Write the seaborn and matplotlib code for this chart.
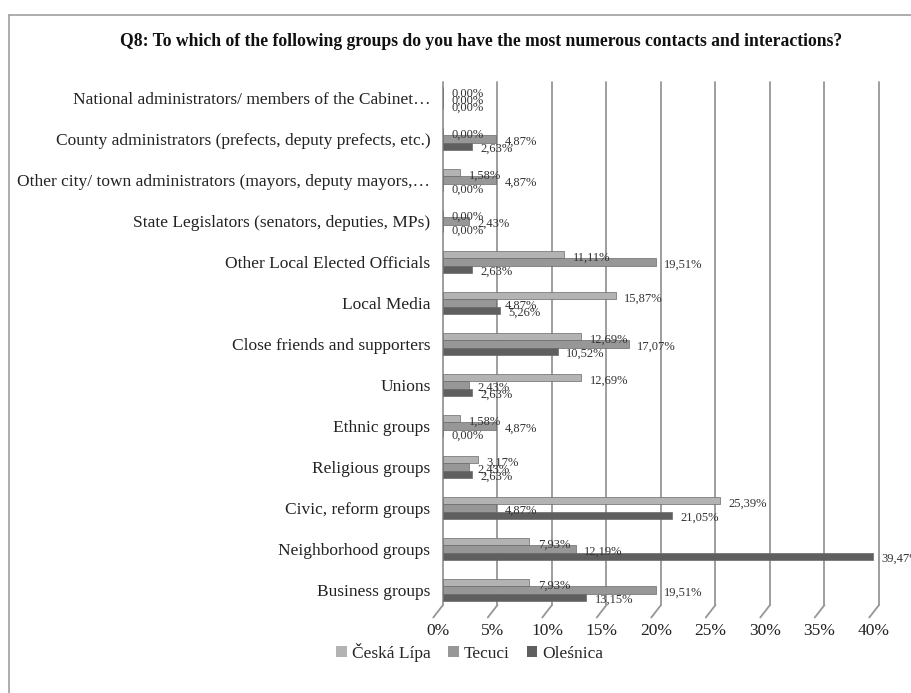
import matplotlib
matplotlib.use("Agg")
import matplotlib.pyplot as plt
import matplotlib.transforms as mtransforms
from matplotlib.patches import Patch
from matplotlib.lines import Line2D
import seaborn as sns
import pandas as pd

categories = [
    "National administrators/ members of the Cabinet\u2026",
    "County administrators (prefects, deputy prefects, etc.)",
    "Other city/ town administrators (mayors, deputy mayors,\u2026",
    "State Legislators (senators, deputies, MPs)",
    "Other Local Elected Officials",
    "Local Media",
    "Close friends and supporters",
    "Unions",
    "Ethnic groups",
    "Religious groups",
    "Civic, reform groups",
    "Neighborhood groups",
    "Business groups",
]
series = ["Česká Lípa", "Tecuci", "Oleśnica"]
ceska_lipa = [0.00, 0.00, 1.58, 0.00, 11.11, 15.87, 12.69, 12.69, 1.58, 3.17, 25.39, 7.93, 7.93]
tecuci = [0.00, 4.87, 4.87, 2.43, 19.51, 4.87, 17.07, 2.43, 4.87, 2.43, 4.87, 12.19, 19.51]
olesnica = [0.00, 2.63, 0.00, 0.00, 2.63, 5.26, 10.52, 2.63, 0.00, 2.63, 21.05, 39.47, 13.15]
xticks = [0, 5, 10, 15, 20, 25, 30, 35, 40]
colors = ["#b3b3b3", "#979797", "#5f5f5f"]

rows = []
for name, vals in zip(series, [ceska_lipa, tecuci, olesnica]):
    for cat, v in zip(categories, vals):
        rows.append({"category": cat, "series": name, "value": v})
df = pd.DataFrame(rows)

sns.set_style("white")
plt.rcParams["font.family"] = ["Liberation Serif", "DejaVu Serif"]

fig = plt.figure(figsize=(9.12, 6.93), dpi=100)
ax = fig.add_axes([443 / 912, 1 - 605 / 693, 436 / 912, (605 - 82) / 693])

sns.barplot(data=df, y="category", x="value", hue="series", order=categories,
            hue_order=series, palette=colors, orient="h", width=0.55,
            edgecolor="#6a6a6a", linewidth=0.5, ax=ax, legend=False, zorder=3)

ax.set_xlim(0, 40)
ax.set_ylim(12.37, -0.39)
ax.set_xlabel("")
ax.set_ylabel("")
for s in ax.spines.values():
    s.set_visible(False)

ax.set_xticks(xticks)
ax.set_xticklabels([f"{t}%" for t in xticks], fontsize=12.5, color="#222")
ax.tick_params(axis="x", length=0, pad=13)
ax.tick_params(axis="y", length=0, pad=9, labelsize=12.5, labelcolor="#222")
shift = mtransforms.ScaledTranslation(-5 / 100, 0, fig.dpi_scale_trans)
for lab in ax.get_xticklabels():
    lab.set_transform(lab.get_transform() + shift)

# vertical gridlines with slanted feet (3D look)
blend = mtransforms.blended_transform_factory(ax.transData, ax.transAxes)
for t in xticks:
    ax.plot([t, t], [0, 1], transform=blend, color="#969696", lw=1.3, zorder=1, clip_on=False)
    ax.annotate("", xy=(t, 0), xycoords=blend, xytext=(-7, -9), textcoords="offset points",
                arrowprops=dict(arrowstyle="-", color="#969696", lw=1.3, shrinkA=0, shrinkB=0))

# value labels
offsets = [-0.18, 0.0, 0.18]
for i, vals in enumerate([ceska_lipa, tecuci, olesnica]):
    for j, v in enumerate(vals):
        ax.annotate(f"{v:.2f}%".replace(".", ","), xy=(v, j + offsets[i]),
                    xytext=(6, -2), textcoords="offset points", ha="left", va="center",
                    fontsize=9, color="#333", zorder=4)

fig.text(481 / 912, 1 - 42 / 693,
         "Q8: To which of the following groups do you have the most numerous contacts and interactions?",
         ha="center", va="center", fontsize=12.7, fontweight="bold", color="#111")

handles = [Patch(facecolor=c, edgecolor="none") for c in colors]
fig.legend(handles, series, loc="center", bbox_to_anchor=(470 / 912, 1 - 652 / 693),
           ncol=3, frameon=False, fontsize=12.5, handlelength=0.6, handleheight=0.6,
           handletextpad=0.3, columnspacing=1.0)

# outer frame (left and top edges visible)
fig.add_artist(Line2D([9 / 912, 9 / 912], [0, 1 - 15 / 693], transform=fig.transFigure, color="#a0a0a0", lw=1.2))
fig.add_artist(Line2D([9 / 912, 1], [1 - 15 / 693, 1 - 15 / 693], transform=fig.transFigure, color="#a0a0a0", lw=1.2))

fig.savefig("out.png", dpi=100)
